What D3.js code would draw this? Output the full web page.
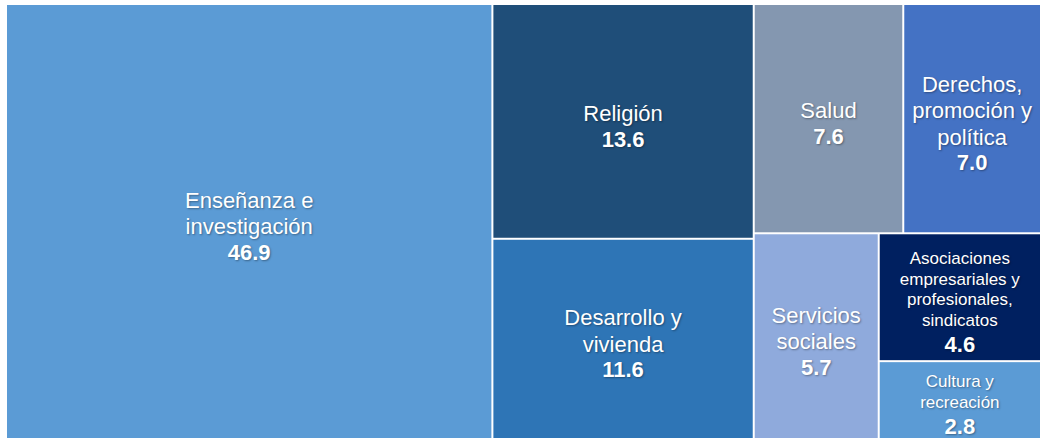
<!DOCTYPE html>
<html>
<head>
<meta charset="utf-8">
<script src="https://cdn.jsdelivr.net/npm/d3@7"></script>
<style>
    body { margin: 0; background: #fff; }
    text { font-family: "Liberation Sans", Arial, sans-serif; fill: #fff; text-shadow: 1px 1px 2px rgba(0,0,0,0.35); }
</style>
</head>
<body>
<div id="chart"></div>
<script>
// categories, values and colours
const categories = ["Enseñanza e investigación", "Religión", "Desarrollo y vivienda", "Salud",
    "Derechos, promoción y política", "Servicios sociales",
    "Asociaciones empresariales y profesionales, sindicatos", "Cultura y recreación"]
const labelLines = [["Enseñanza e", "investigación"], ["Religión"], ["Desarrollo y", "vivienda"], ["Salud"],
    ["Derechos,", "promoción y", "política"], ["Servicios", "sociales"],
    ["Asociaciones", "empresariales y", "profesionales,", "sindicatos"], ["Cultura y", "recreación"]]
const values = [46.9, 13.6, 11.6, 7.6, 7.0, 5.7, 4.6, 2.8]
const colors = ["#5b9bd5", "#1f4e79", "#2e75b6", "#8497b0", "#4472c4", "#8faadc", "#002060", "#5b9bd5"]

const margin = {top: 5, right: 0, bottom: 0, left: 7}
const width = 1040 - margin.left - margin.right
const height = 438 - margin.top - margin.bottom

const svg = d3.select("#chart").append("svg")
    .attr("width", 1040)
    .attr("height", 438)
    .append("g")
    .attr("transform", `translate(${margin.left}, ${margin.top})`)

const root = d3.hierarchy({children: categories.map((c, i) => ({name: c, value: values[i], idx: i}))})
    .sum(d => d.value || 0)

d3.treemap()
    .tile(d3.treemapSquarify.ratio(1))
    .size([width, height])
    .paddingInner(2)
    .round(false)(root)

const cells = svg.selectAll("g.cell")
    .data(root.leaves())
    .enter().append("g")
    .attr("class", "cell")

cells.append("rect")
    .attr("x", d => d.x0)
    .attr("y", d => d.y0)
    .attr("width", d => d.x1 - d.x0)
    .attr("height", d => d.y1 - d.y0)
    .attr("fill", d => colors[d.data.idx])

cells.each(function(d) {
    let lines = labelLines[d.data.idx]
    let small = (d.y1 - d.y0) < 130
    let fs = small ? 17 : 22
    let lh = small ? 20.5 : 26.5
    let numGap = small ? 26 : 25.5
    // block goes from cap top of first line to baseline of the number
    let blockH = 0.716 * fs + (lines.length - 1) * lh + numGap
    let cx = (d.x0 + d.x1) / 2
    let cy = (d.y0 + d.y1) / 2 + 4.5
    let firstBase = cy - blockH / 2 + 0.716 * fs
    let t = d3.select(this).append("text")
        .attr("text-anchor", "middle")
    lines.forEach((l, i) => {
        t.append("tspan")
            .attr("x", cx)
            .attr("y", firstBase + i * lh)
            .style("font-size", fs + "px")
            .text(l)
    })
    t.append("tspan")
        .attr("x", cx)
        .attr("y", firstBase + (lines.length - 1) * lh + numGap)
        .style("font-size", "22px")
        .style("font-weight", "bold")
        .text(d3.format(".1f")(d.data.value))
})
</script>
</body>
</html>
